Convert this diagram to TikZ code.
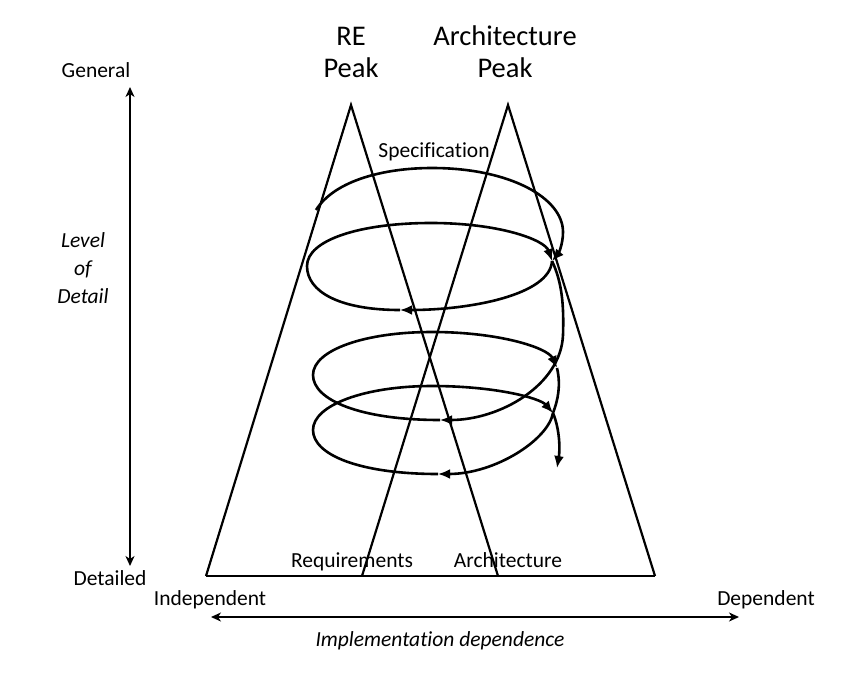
\documentclass[tikz,border=0pt]{standalone}
\usepackage{fontspec}
\setmainfont{Carlito}[Ligatures=NoCommon]
\usetikzlibrary{arrows.meta}
\begin{document}
\begin{tikzpicture}[x=1pt,y=-1pt,
  tri/.style={line width=2.2pt, line join=miter},
  spir/.style={line width=2.6pt},
  spirar/.style={line width=2.6pt, -{Latex[length=12pt,width=10pt]}},
  axis/.style={line width=2.2pt, {Stealth[length=10pt,width=9pt,inset=3pt]}-{Stealth[length=10pt,width=9pt,inset=3pt]}},
  big/.style={font=\fontsize{28.5}{30}\selectfont, inner sep=0pt},
  lbl/.style={font=\fontsize{21.5}{24}\selectfont, inner sep=0pt},
  ilbl/.style={font=\fontsize{21.5}{24}\selectfont\itshape, inner sep=0pt}]
\useasboundingbox (0,0) rectangle (858,674);
\fill[white] (0,0) rectangle (858,674);

% triangles
\coordinate (reA) at (351,105);
\coordinate (reL) at (206,576);
\coordinate (reR) at (498,576);
\coordinate (arA) at (508,105);
\coordinate (arL) at (362,576);
\coordinate (arR) at (655,576);
\draw[tri] (reL) -- (reA) -- (reR);
\draw[tri] (arL) -- (arA) -- (arR);
\draw[tri] (reL) -- (arR);

% titles
\node[big] (re1) at (351,36) {RE};
\node[big] (re2) at (351,68) {Peak};
\node[big] (ar1) at (505,36) {Architecture};
\node[big] (ar2) at (505,68) {Peak};

% labels
\node[lbl] (spec) at (434,152) {Specification};
\node[lbl, anchor=base] (req) at (352,567) {Requirements};
\node[lbl, anchor=base] (arch) at (508,567) {Architecture};
\node[lbl] (gen) at (96,70) {General};
\node[lbl] (det) at (110,578) {Detailed};
\node[lbl] (ind) at (210,600) {Independent};
\node[lbl] (dep) at (766,600) {Dependent};
\node[ilbl] (impl) at (440,641) {Implementation dependence};
\node[ilbl, align=center, font=\fontsize{21.5}{28}\selectfont\itshape] (lod) at (83,268) {Level\\of\\Detail};

% axes
\coordinate (vt) at (130,87);
\coordinate (vb) at (130,566);
\coordinate (hl) at (211,617);
\coordinate (hr) at (739,617);
\draw[axis] (vt) -- (vb);
\draw[axis] (hl) -- (hr);

% spiral
\coordinate (s0) at (316,210);
\coordinate (j1) at (552,261);
\coordinate (b2) at (400,310);
\coordinate (b3) at (440,420);
\coordinate (j2) at (557,368);
\coordinate (j3) at (553,413);
\coordinate (b4) at (438,474);
\coordinate (e) at (557,468);

\draw[spirar] (s0) .. controls (335,180) and (385,168) .. (432,168)
   .. controls (510,168) and (563,198) .. (563,232)
   .. controls (563,245) and (558,254) .. (j1);
\draw[spirar] (j1) .. controls (550,295) and (470,310) .. (b2);
\draw[spirar] (b2) .. controls (340,310) and (307,292) .. (307,266)
   .. controls (307,240) and (360,223) .. (431,223)
   .. controls (500,223) and (545,240) .. (j1);
\draw[spirar] (j1) .. controls (562,282) and (564,305) .. (563,335)
   .. controls (561,385) and (500,420) .. (b3);
\draw[spirar] (b3) .. controls (360,420) and (313,400) .. (313,375)
   .. controls (313,350) and (365,332) .. (432,332)
   .. controls (500,332) and (548,348) .. (j2);
\draw[spir] (j2) .. controls (561,385) and (558,400) .. (j3);
\draw[spirar] (j3) .. controls (548,440) and (495,474) .. (b4);
\draw[spirar] (b4) .. controls (360,474) and (313,455) .. (313,430)
   .. controls (313,405) and (365,386) .. (432,386)
   .. controls (495,386) and (540,398) .. (j3);
\draw[spirar] (j3) .. controls (560,430) and (560,450) .. (e);
\end{tikzpicture}
\end{document}
